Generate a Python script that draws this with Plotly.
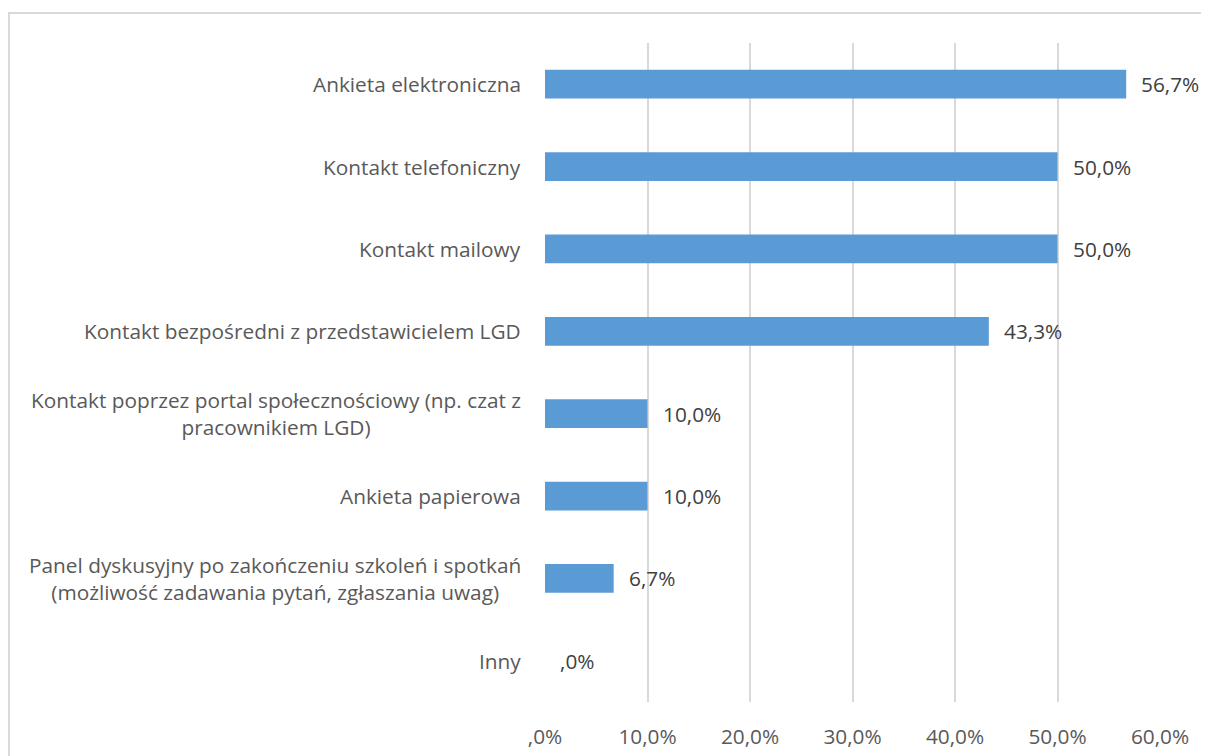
import plotly.graph_objects as go

categories = [
    "Ankieta elektroniczna",
    "Kontakt telefoniczny",
    "Kontakt mailowy",
    "Kontakt bezpośredni z przedstawicielem LGD",
    "Kontakt poprzez portal społecznościowy (np. czat z<br>pracownikiem LGD)",
    "Ankieta papierowa",
    "Panel dyskusyjny po zakończeniu szkoleń i spotkań<br>(możliwość zadawania pytań, zgłaszania uwag)",
    "Inny",
]
values = [56.7, 50.0, 50.0, 43.3, 10.0, 10.0, 6.7, 0.0]
value_labels = ["56,7%", "50,0%", "50,0%", "43,3%", "10,0%", "10,0%", "6,7%", ",0%"]
tick_vals = [0, 10, 20, 30, 40, 50, 60]
tick_text = [",0%", "10,0%", "20,0%", "30,0%", "40,0%", "50,0%", "60,0%"]

FONT = "Open Sans"
TXT = "#595959"
FS = 20.8

OFF = 8  # page body margin
W, H = 1209 - OFF, 756 - OFF
L, R, T, B = 545 - OFF, 49, 43 - OFF, 54
pw, ph = W - L - R, H - T - B

fig = go.Figure(go.Bar(
    x=values, y=categories, orientation="h",
    marker=dict(color="#5b9bd5", line=dict(width=0)),
    width=0.35, hoverinfo="x+y",
))

annotations = []
for c in categories:
    annotations.append(dict(
        x=(523 - 545) / pw, xref="paper", y=c, yref="y",
        text=c, showarrow=False, xanchor="right", align="center",
        font=dict(family=FONT, size=FS, color=TXT),
    ))
for c, v, t in zip(categories, values, value_labels):
    annotations.append(dict(
        x=v, xref="x", y=c, yref="y", text=t, showarrow=False,
        xanchor="left", xshift=13,
        font=dict(family=FONT, size=FS, color="#404040"),
    ))

fig.update_layout(
    width=W, height=H,
    margin=dict(l=L, r=R, t=T, b=B, autoexpand=False),
    paper_bgcolor="white", plot_bgcolor="white",
    showlegend=False,
    font=dict(family=FONT, size=FS, color=TXT),
    xaxis=dict(range=[0, 60], tickvals=tick_vals, ticktext=tick_text,
               showgrid=True, gridcolor="#d9d9d9", gridwidth=1.5,
               zeroline=False, showline=False, ticks="",
               ticklabelstandoff=20,
               tickfont=dict(family=FONT, size=FS, color=TXT)),
    yaxis=dict(autorange="reversed", showticklabels=False, showgrid=False,
               zeroline=False, showline=False, ticks=""),
    annotations=annotations,
    shapes=[dict(type="rect", xref="paper", yref="paper",
                 x0=(9 - 545) / pw, x1=(1209 + 10 - 545) / pw,
                 y0=(702 - 770) / ph, y1=(702 - 13) / ph,
                 line=dict(color="#d9d9d9", width=2), fillcolor="rgba(0,0,0,0)",
                 layer="below")],
)

fig.write_html("out.html")
